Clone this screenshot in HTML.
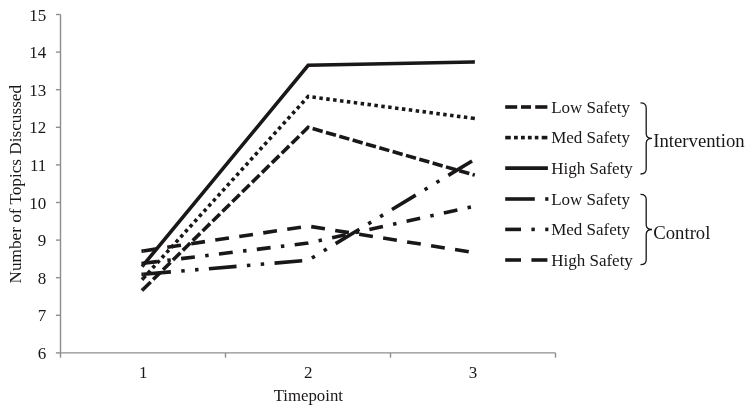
<!DOCTYPE html>
<html><head><meta charset="utf-8"><title>Chart</title>
<style>
html,body{margin:0;padding:0;background:#fff;}
body{width:754px;height:414px;overflow:hidden;}
svg{display:block;}
text{font-family:"Liberation Serif","Times New Roman",serif;fill:#1a1718;}
.ax{stroke:#8e8e8e;stroke-width:1.4;fill:none;}
.ln{stroke:#1a1718;stroke-width:3.6;fill:none;stroke-linejoin:miter;stroke-miterlimit:10;}
.br{stroke:#1a1718;stroke-width:1.3;fill:none;}
</style></head><body>
<svg width="754" height="414" viewBox="0 0 754 414">
<rect width="754" height="414" fill="#fff"/>

<path class="ax" d="M60.5 14.5 V352.9 H555.5"/>
<path class="ax" d="M60.5 352.9 h-4.6"/>
<text x="46.3" y="359.0" font-size="17" text-anchor="end">6</text>
<path class="ax" d="M60.5 315.3 h-4.6"/>
<text x="46.3" y="321.4" font-size="17" text-anchor="end">7</text>
<path class="ax" d="M60.5 277.7 h-4.6"/>
<text x="46.3" y="283.8" font-size="17" text-anchor="end">8</text>
<path class="ax" d="M60.5 240.1 h-4.6"/>
<text x="46.3" y="246.2" font-size="17" text-anchor="end">9</text>
<path class="ax" d="M60.5 202.5 h-4.6"/>
<text x="46.3" y="208.6" font-size="17" text-anchor="end">10</text>
<path class="ax" d="M60.5 164.9 h-4.6"/>
<text x="46.3" y="171.0" font-size="17" text-anchor="end">11</text>
<path class="ax" d="M60.5 127.3 h-4.6"/>
<text x="46.3" y="133.4" font-size="17" text-anchor="end">12</text>
<path class="ax" d="M60.5 89.7 h-4.6"/>
<text x="46.3" y="95.8" font-size="17" text-anchor="end">13</text>
<path class="ax" d="M60.5 52.1 h-4.6"/>
<text x="46.3" y="58.2" font-size="17" text-anchor="end">14</text>
<path class="ax" d="M60.5 14.5 h-4.6"/>
<text x="46.3" y="20.6" font-size="17" text-anchor="end">15</text>
<path class="ax" d="M60.5 352.9 v4.8"/>
<path class="ax" d="M225.5 352.9 v4.8"/>
<path class="ax" d="M390.5 352.9 v4.8"/>
<path class="ax" d="M555.5 352.9 v4.8"/>
<text x="143.2" y="378.3" font-size="17" text-anchor="middle">1</text>
<text x="308.2" y="378.3" font-size="17" text-anchor="middle">2</text>
<text x="473.1" y="378.3" font-size="17" text-anchor="middle">3</text>
<text x="308.3" y="401.3" font-size="16.8" text-anchor="middle">Timepoint</text>
<text transform="translate(21.3,184.2) rotate(-90)" font-size="17.2" text-anchor="middle">Number of Topics Discussed</text>
<path class="ln" d="M143.25 265.19 L308.15 65.32 L473.05 61.94"/>
<path class="ln" d="M142.10 266.58 L143.38 265.04"/>
<path class="ln" d="M472.85 61.94 L474.85 61.90"/>
<path class="ln" d="M143.25 278.34 L308.15 96.50 L473.05 118.29" stroke-dasharray="3.47 3.47"/>
<path class="ln" d="M142.04 279.67 L143.38 278.19"/>
<path class="ln" d="M472.85 118.27 L474.83 118.53"/>
<path class="ln" d="M143.25 289.24 L308.15 127.31 L473.05 174.65" stroke-dasharray="10.4 3.47"/>
<path class="ln" d="M141.97 290.50 L143.39 289.10"/>
<path class="ln" d="M472.86 174.59 L474.78 175.14"/>
<path class="ln" d="M143.25 263.31 L308.15 243.03 L473.05 206.58" stroke-dasharray="13.87 10.4 3.47 10.4"/>
<path class="ln" d="M141.46 263.53 L143.45 263.29"/>
<path class="ln" d="M143.25 274.21 L308.15 260.31 L473.05 160.37" stroke-dasharray="27.74 10.4 3.47 10.4 3.47 10.4"/>
<path class="ln" d="M141.46 274.36 L143.45 274.19"/>
<path class="ln" d="M143.25 250.92 L308.15 226.12 L473.05 252.42" stroke-dasharray="13.87 10.4"/>
<path class="ln" d="M141.47 251.18 L143.45 250.89"/>
<path class="ln" d="M505.2 107.0 H517.2"/><path class="ln" d="M521.0 107.0 H531.0"/><path class="ln" d="M535.2 107.0 H547.4"/>
<text x="551.2" y="112.7" font-size="17">Low Safety</text>
<path class="ln" d="M505.2 137.6 H510.8"/><path class="ln" d="M514.0 137.6 H517.8"/><path class="ln" d="M521.0 137.6 H524.8"/><path class="ln" d="M527.9 137.6 H531.7"/><path class="ln" d="M534.8 137.6 H538.4"/><path class="ln" d="M541.7 137.6 H547.4"/>
<text x="551.2" y="143.3" font-size="17">Med Safety</text>
<path class="ln" d="M505.2 168.1 H547.9"/>
<text x="551.2" y="173.8" font-size="17">High Safety</text>
<path class="ln" d="M505.2 199.0 H534.8"/><path class="ln" d="M545.2 199.0 H548.4"/>
<text x="551.2" y="204.7" font-size="17">Low Safety</text>
<path class="ln" d="M505.2 229.4 H521.0"/><path class="ln" d="M531.4 229.4 H534.8"/><path class="ln" d="M545.2 229.4 H548.4"/>
<text x="551.2" y="235.1" font-size="17">Med Safety</text>
<path class="ln" d="M505.2 260.0 H521.0"/><path class="ln" d="M531.4 260.0 H547.4"/>
<text x="551.2" y="265.7" font-size="17">High Safety</text>
<path class="br" d="M640.5 102.8 Q646.2 102.8 646.2 107.8 V133.4 Q646.2 138.4 652.0 138.4 Q646.2 138.4 646.2 143.4 V169.0 Q646.2 174.0 640.5 174.0"/>
<path class="br" d="M640.5 194.3 Q646.2 194.3 646.2 199.3 V224.5 Q646.2 229.5 652.0 229.5 Q646.2 229.5 646.2 234.5 V259.7 Q646.2 264.7 640.5 264.7"/>
<text x="653.3" y="147.2" font-size="18.7">Intervention</text>
<text x="653.3" y="239.4" font-size="18.7">Control</text>
</svg></body></html>
